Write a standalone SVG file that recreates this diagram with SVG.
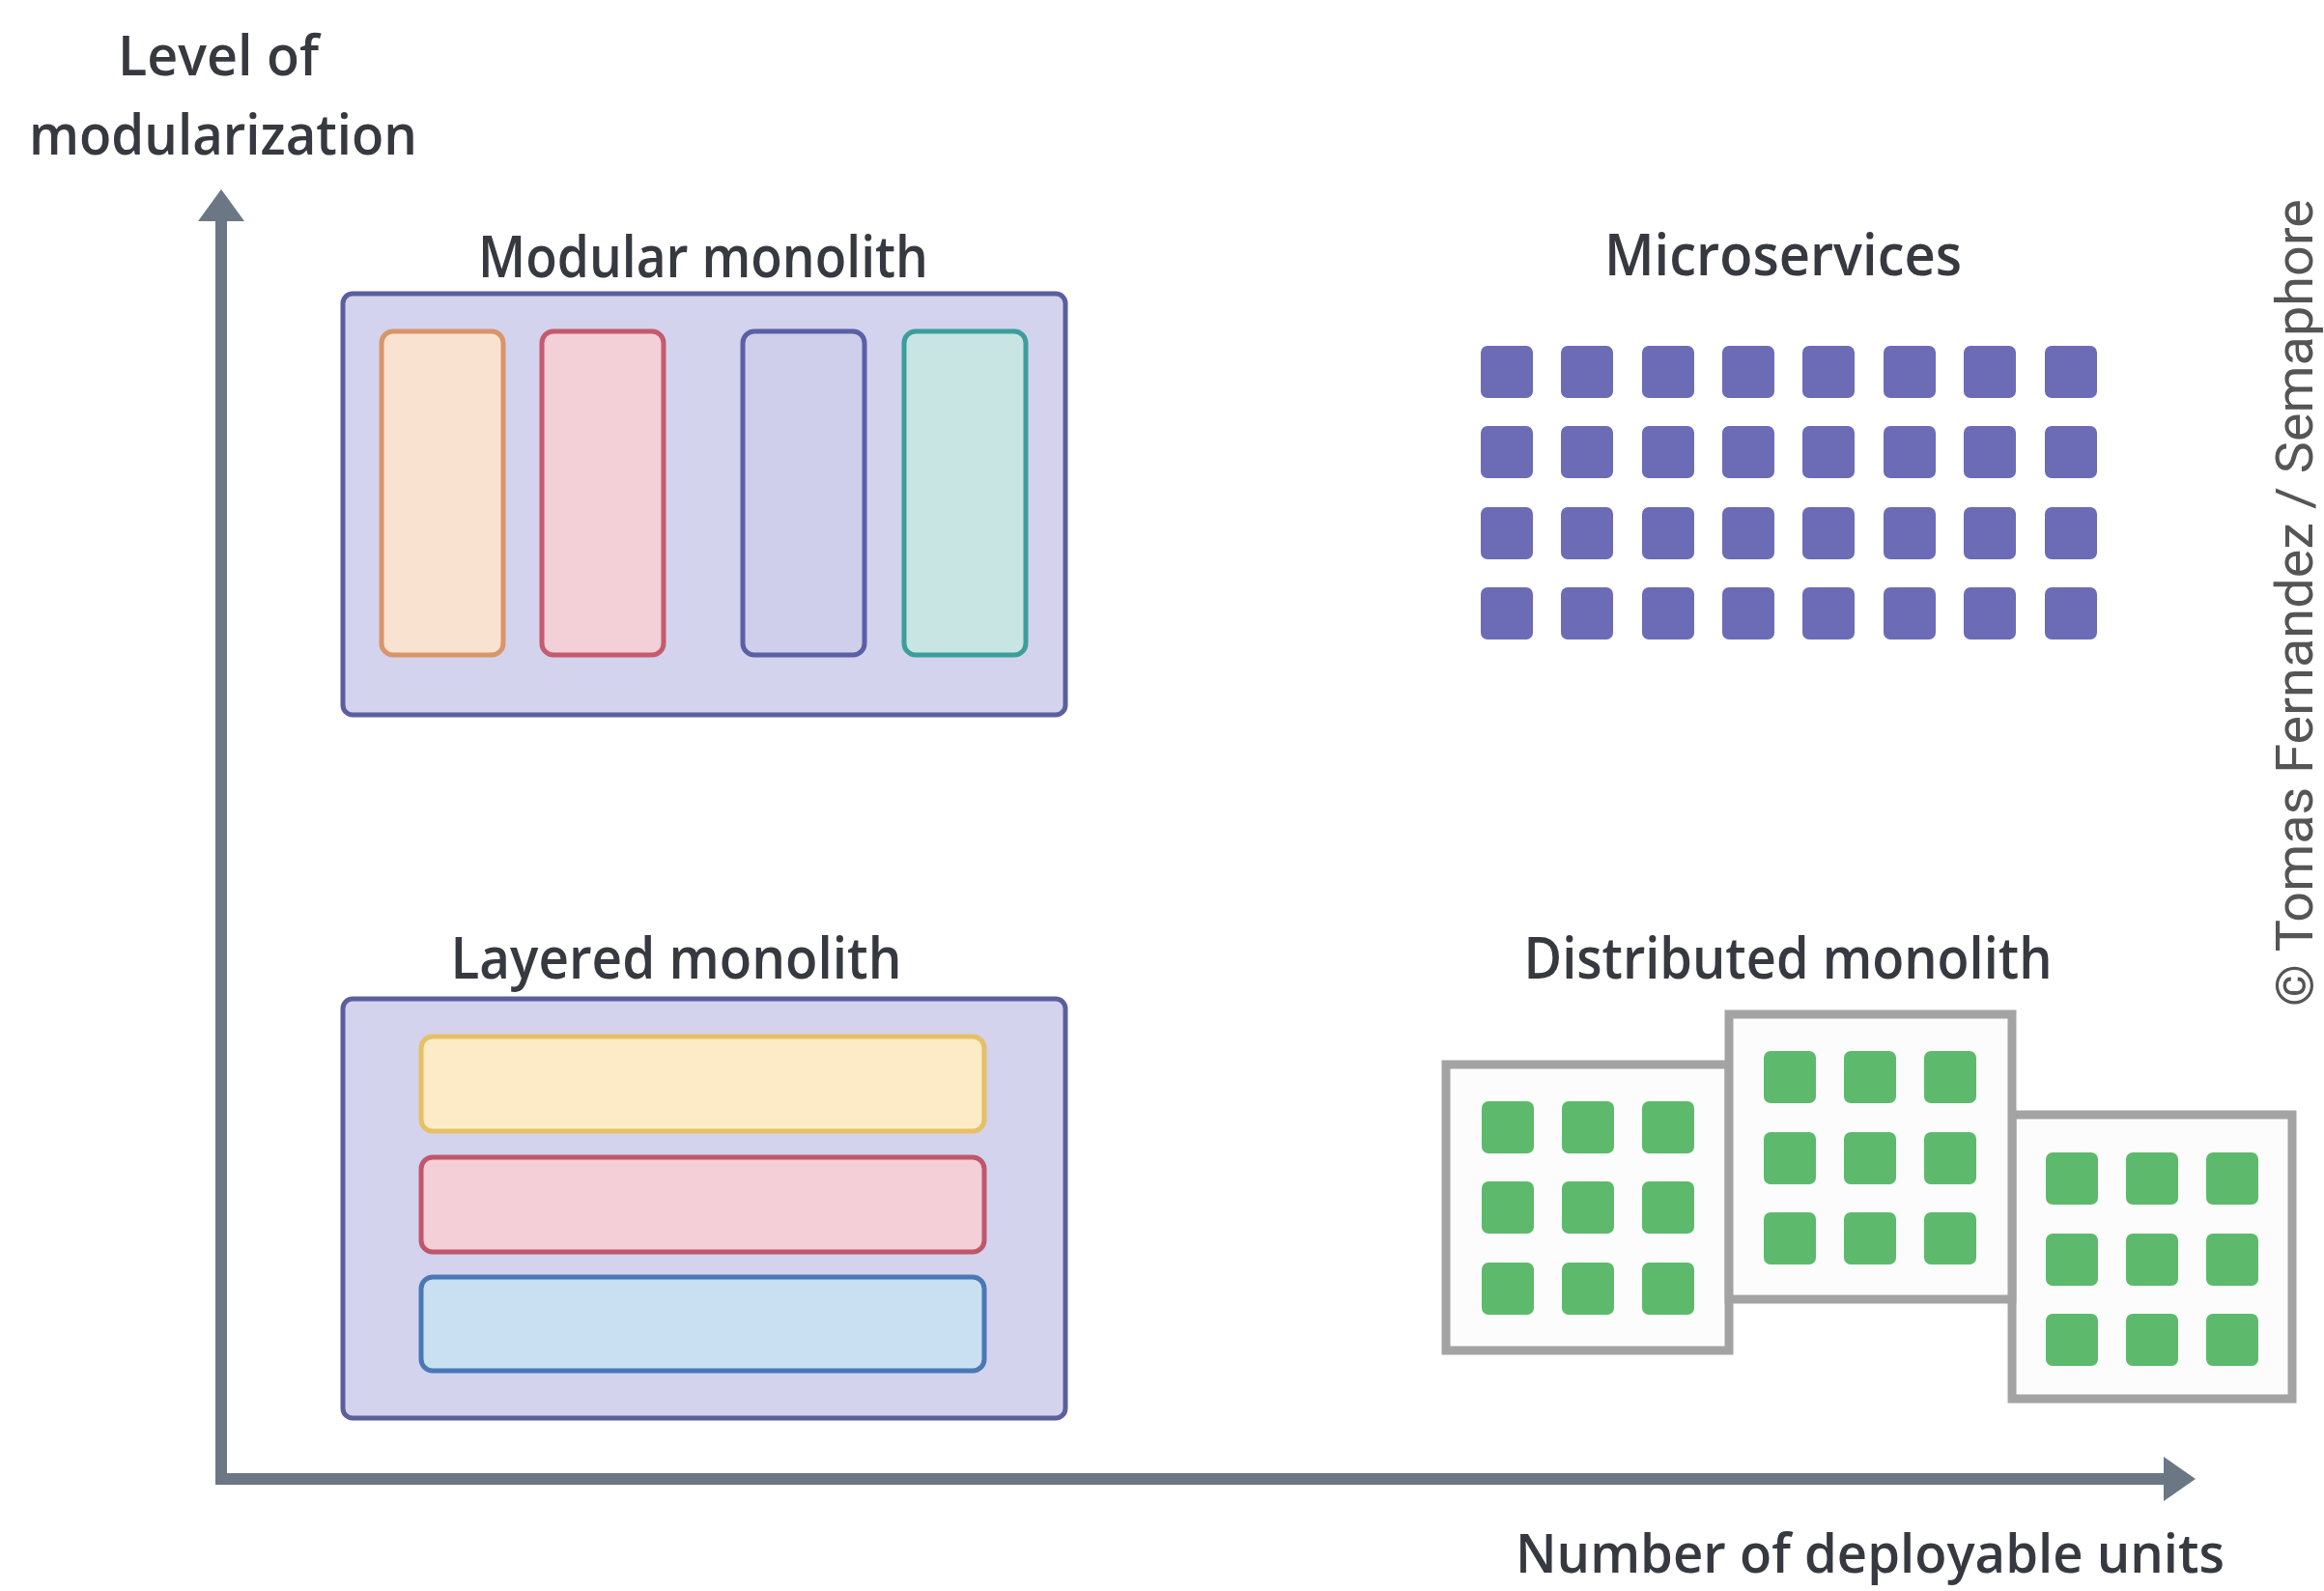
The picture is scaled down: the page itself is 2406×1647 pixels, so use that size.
<svg xmlns="http://www.w3.org/2000/svg" width="2406" height="1647" viewBox="0 0 2406 1647">
<style>
.lbl{font-family:"Open Sans","Liberation Sans",sans-serif;font-weight:600;fill:#363a40;text-anchor:middle}
.outer{fill:#d3d3ee;stroke:#5c5f9e;stroke-width:5}
.ms{fill:#6b6bb6}
.gr{fill:#5dba6c}
.dbox{fill:#fcfcfc;stroke:#a3a3a3;stroke-width:9}
.axis{fill:#6b7785}
</style>
<rect width="2406" height="1647" fill="#ffffff"/>

<g id="connectors">
  <rect class="axis" x="223" y="220" width="12" height="1317"/>
  <polygon class="axis" points="229,196 253,229 205,229"/>
  <rect class="axis" x="223" y="1525" width="2025" height="12"/>
  <polygon class="axis" points="2273,1531 2240,1508 2240,1554"/>
</g>

<g id="axis-y-label">
  <text class="lbl" x="226" y="78" font-size="58" textLength="208" lengthAdjust="spacingAndGlyphs">Level of</text>
  <text class="lbl" x="231" y="160" font-size="58" textLength="402" lengthAdjust="spacingAndGlyphs">modularization</text>
</g>
<g id="axis-x-label">
  <text class="lbl" x="1936" y="1628" font-size="56" textLength="734" lengthAdjust="spacingAndGlyphs">Number of deployable units</text>
</g>

<g id="modular-monolith">
  <text class="lbl" x="728" y="287" font-size="60" textLength="466" lengthAdjust="spacingAndGlyphs">Modular monolith</text>
  <rect class="outer" x="355" y="304" width="748" height="436" rx="10"/>
  <rect x="395" y="343" width="126" height="335" rx="12" fill="#f9e2d0" stroke="#d9956a" stroke-width="5"/>
  <rect x="561" y="343" width="126" height="335" rx="12" fill="#f3cfd8" stroke="#c65a6e" stroke-width="5"/>
  <rect x="769" y="343" width="126" height="335" rx="12" fill="#cfcfec" stroke="#5b5fa6" stroke-width="5"/>
  <rect x="936" y="343" width="126" height="335" rx="12" fill="#c8e5e3" stroke="#3c9e9b" stroke-width="5"/>
</g>

<g id="microservices">
  <text class="lbl" x="1846" y="285" font-size="60" textLength="370" lengthAdjust="spacingAndGlyphs">Microservices</text>
  <g>
    <rect class="ms" x="1533" y="358" width="54" height="54" rx="7"/><rect class="ms" x="1616" y="358" width="54" height="54" rx="7"/><rect class="ms" x="1700" y="358" width="54" height="54" rx="7"/><rect class="ms" x="1783" y="358" width="54" height="54" rx="7"/><rect class="ms" x="1866" y="358" width="54" height="54" rx="7"/><rect class="ms" x="1950" y="358" width="54" height="54" rx="7"/><rect class="ms" x="2033" y="358" width="54" height="54" rx="7"/><rect class="ms" x="2117" y="358" width="54" height="54" rx="7"/>
    <rect class="ms" x="1533" y="441" width="54" height="54" rx="7"/><rect class="ms" x="1616" y="441" width="54" height="54" rx="7"/><rect class="ms" x="1700" y="441" width="54" height="54" rx="7"/><rect class="ms" x="1783" y="441" width="54" height="54" rx="7"/><rect class="ms" x="1866" y="441" width="54" height="54" rx="7"/><rect class="ms" x="1950" y="441" width="54" height="54" rx="7"/><rect class="ms" x="2033" y="441" width="54" height="54" rx="7"/><rect class="ms" x="2117" y="441" width="54" height="54" rx="7"/>
    <rect class="ms" x="1533" y="525" width="54" height="54" rx="7"/><rect class="ms" x="1616" y="525" width="54" height="54" rx="7"/><rect class="ms" x="1700" y="525" width="54" height="54" rx="7"/><rect class="ms" x="1783" y="525" width="54" height="54" rx="7"/><rect class="ms" x="1866" y="525" width="54" height="54" rx="7"/><rect class="ms" x="1950" y="525" width="54" height="54" rx="7"/><rect class="ms" x="2033" y="525" width="54" height="54" rx="7"/><rect class="ms" x="2117" y="525" width="54" height="54" rx="7"/>
    <rect class="ms" x="1533" y="608" width="54" height="54" rx="7"/><rect class="ms" x="1616" y="608" width="54" height="54" rx="7"/><rect class="ms" x="1700" y="608" width="54" height="54" rx="7"/><rect class="ms" x="1783" y="608" width="54" height="54" rx="7"/><rect class="ms" x="1866" y="608" width="54" height="54" rx="7"/><rect class="ms" x="1950" y="608" width="54" height="54" rx="7"/><rect class="ms" x="2033" y="608" width="54" height="54" rx="7"/><rect class="ms" x="2117" y="608" width="54" height="54" rx="7"/>
  </g>
</g>

<g id="layered-monolith">
  <text class="lbl" x="700" y="1013" font-size="60" textLength="467" lengthAdjust="spacingAndGlyphs">Layered monolith</text>
  <rect class="outer" x="355" y="1034" width="748" height="434" rx="10"/>
  <rect x="436" y="1073" width="583" height="98" rx="12" fill="#fcebc6" stroke="#e6c064" stroke-width="5"/>
  <rect x="436" y="1198" width="583" height="98" rx="12" fill="#f4cfd8" stroke="#c0566c" stroke-width="5"/>
  <rect x="436" y="1322" width="583" height="97" rx="12" fill="#c9e0f2" stroke="#4a78b4" stroke-width="5"/>
</g>

<g id="distributed-monolith">
  <text class="lbl" x="1851" y="1013" font-size="60" textLength="547" lengthAdjust="spacingAndGlyphs">Distributed monolith</text>
  <g id="unit-1">
    <rect class="dbox" x="1497" y="1102" width="293" height="296"/>
    <rect class="gr" x="1534" y="1140" width="54" height="54" rx="7"/><rect class="gr" x="1617" y="1140" width="54" height="54" rx="7"/><rect class="gr" x="1700" y="1140" width="54" height="54" rx="7"/>
    <rect class="gr" x="1534" y="1223" width="54" height="54" rx="7"/><rect class="gr" x="1617" y="1223" width="54" height="54" rx="7"/><rect class="gr" x="1700" y="1223" width="54" height="54" rx="7"/>
    <rect class="gr" x="1534" y="1307" width="54" height="54" rx="7"/><rect class="gr" x="1617" y="1307" width="54" height="54" rx="7"/><rect class="gr" x="1700" y="1307" width="54" height="54" rx="7"/>
  </g>
  <g id="unit-3">
    <rect class="dbox" x="2083" y="1154" width="290" height="294"/>
    <rect class="gr" x="2118" y="1193" width="54" height="54" rx="7"/><rect class="gr" x="2201" y="1193" width="54" height="54" rx="7"/><rect class="gr" x="2284" y="1193" width="54" height="54" rx="7"/>
    <rect class="gr" x="2118" y="1277" width="54" height="54" rx="7"/><rect class="gr" x="2201" y="1277" width="54" height="54" rx="7"/><rect class="gr" x="2284" y="1277" width="54" height="54" rx="7"/>
    <rect class="gr" x="2118" y="1360" width="54" height="54" rx="7"/><rect class="gr" x="2201" y="1360" width="54" height="54" rx="7"/><rect class="gr" x="2284" y="1360" width="54" height="54" rx="7"/>
  </g>
  <g id="unit-2">
    <rect class="dbox" x="1790" y="1050" width="293" height="295"/>
    <rect class="gr" x="1826" y="1088" width="54" height="54" rx="7"/><rect class="gr" x="1909" y="1088" width="54" height="54" rx="7"/><rect class="gr" x="1992" y="1088" width="54" height="54" rx="7"/>
    <rect class="gr" x="1826" y="1172" width="54" height="54" rx="7"/><rect class="gr" x="1909" y="1172" width="54" height="54" rx="7"/><rect class="gr" x="1992" y="1172" width="54" height="54" rx="7"/>
    <rect class="gr" x="1826" y="1255" width="54" height="54" rx="7"/><rect class="gr" x="1909" y="1255" width="54" height="54" rx="7"/><rect class="gr" x="1992" y="1255" width="54" height="54" rx="7"/>
  </g>
</g>

<g id="credit">
  <text x="0" y="0" transform="translate(2394,624) rotate(-90)" font-family="Roboto,'Liberation Sans',sans-serif" font-size="54" fill="#555555" text-anchor="middle" textLength="836" lengthAdjust="spacingAndGlyphs">© Tomas Fernandez / Semaphore</text>
</g>
</svg>
